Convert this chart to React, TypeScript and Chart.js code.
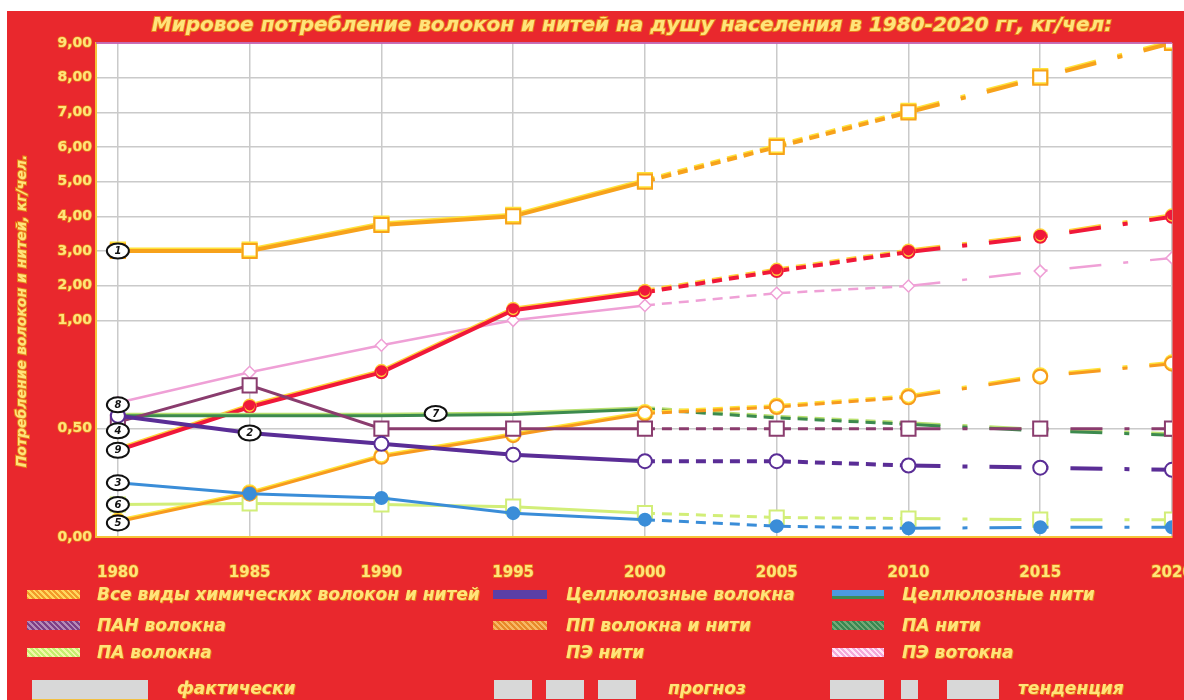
import React, { useEffect, useRef } from "react";
import { Chart, registerables } from "chart.js";

Chart.register(...registerables);

// ---------- data ----------
const years = [1980, 1985, 1990, 1995, 2000, 2005, 2010, 2015, 2020];
const yTickValues = [0, 0.5, 1, 2, 3, 4, 5, 6, 7, 8, 9];
const yTickLabels = ["0,00", "0,50", "1,00", "2,00", "3,00", "4,00", "5,00", "6,00", "7,00", "8,00", "9,00"];

const allFibers = [3.0, 3.0, 3.75, 4.0, 5.0, 6.0, 7.0, 8.0, 9.0];
const celluloseFibers = [0.56, 0.48, 0.43, 0.38, 0.35, 0.35, 0.33, 0.32, 0.31];
const celluloseYarns = [0.25, 0.2, 0.18, 0.11, 0.08, 0.05, 0.04, 0.045, 0.045];
const panFibers = [0.53, 0.7, 0.5, 0.5, 0.5, 0.5, 0.5, 0.5, 0.5];
const ppFibers = [0.07, 0.2, 0.37, 0.47, 0.57, 0.6, 0.645, 0.74, 0.8];
const paFibers = [0.15, 0.155, 0.15, 0.14, 0.11, 0.09, 0.085, 0.08, 0.08];
const paYarns = [0.56, 0.56, 0.56, 0.565, 0.59, 0.55, 0.52, 0.49, 0.47];
const peFibers = [0.62, 0.76, 0.885, 1.0, 1.43, 1.78, 1.99, 2.42, 2.8];
const peYarns = [0.4, 0.6, 0.76, 1.29, 1.81, 2.42, 2.97, 3.41, 3.99];

const seriesNames = [
  "Все виды химических волокон и нитей",
  "Целлюлозные волокна",
  "Целлюлозные нити",
  "ПАН волокна",
  "ПП волокна и нити",
  "ПА нити",
  "ПА волокна",
  "ПЭ нити",
  "ПЭ вотокна",
];

// circled number annotations: [number, year, value]
const numberLabels: [string, number, number][] = [
  ["1", 1980, 3.0],
  ["2", 1985, 0.48],
  ["3", 1980, 0.25],
  ["4", 1980, 0.49],
  ["5", 1980, 0.065],
  ["6", 1980, 0.15],
  ["7", 1992.06, 0.57],
  ["8", 1980, 0.61],
  ["9", 1980, 0.4],
];

const titleText = "Мировое потребление волокон и нитей на душу населения в 1980-2020 гг, кг/чел:";
const yTitleText = "Потребление волокон и нитей, кг/чел.";
const lineKinds = ["фактически", "прогноз", "тенденция"];

// piecewise axis: 0..1 expanded, above 1 compressed
const toAxis = (v: number) => (v <= 1 ? v * 2 : 2 + (v - 1) * 0.32);

const RED = "#E9282D";
const TXT = "#FFE47A";
const TXT_EDGE = "#E8801A";
const FONT = "'DejaVu Sans', sans-serif";

const dashFor = (ctx: any) =>
  ctx.p0DataIndex >= 6 ? [32, 22, 5, 22] : ctx.p0DataIndex >= 4 ? [10, 7] : undefined;

function mk(values: number[], label: string, color: string, opts: any = {}) {
  return {
    label,
    data: years.map((yr, i) => ({ x: yr, y: toAxis(values[i]) })),
    borderColor: color,
    backgroundColor: color,
    borderWidth: 3,
    pointStyle: "circle",
    pointRadius: 7,
    pointBorderWidth: 2,
    pointBorderColor: color,
    pointBackgroundColor: "#ffffff",
    segment: { borderDash: dashFor },
    tension: 0,
    ...opts,
  };
}

const bgPlugin = {
  id: "bgPlugin",
  beforeDraw(chart: any) {
    const { ctx, chartArea: a, width, height } = chart;
    ctx.save();
    ctx.fillStyle = RED;
    ctx.fillRect(0, 0, width, height);
    ctx.fillStyle = "#ffffff";
    ctx.fillRect(a.left, a.top, a.right - a.left, a.bottom - a.top);
    ctx.restore();
  },
  beforeDatasetDraw(chart: any, args: any) {
    const ds = chart.data.datasets[args.index];
    const ctx = chart.ctx;
    ctx.save();
    if (ds.edgeColor) {
      ctx.shadowColor = ds.edgeColor;
      ctx.shadowOffsetX = 0;
      ctx.shadowOffsetY = -1.5;
      ctx.shadowBlur = 0;
    }
  },
  afterDatasetDraw(chart: any) {
    chart.ctx.restore();
  },
  afterDraw(chart: any) {
    const { ctx, chartArea: a } = chart;
    ctx.save();
    // top border
    ctx.strokeStyle = "#C24AA8";
    ctx.lineWidth = 1.5;
    ctx.beginPath();
    ctx.moveTo(a.left, a.top);
    ctx.lineTo(a.right, a.top);
    ctx.stroke();
    // title
    ctx.font = `italic bold 20px ${FONT}`;
    ctx.textAlign = "center";
    ctx.textBaseline = "middle";
    ctx.lineWidth = 2;
    ctx.strokeStyle = TXT_EDGE;
    ctx.strokeText(titleText, 625, 15);
    ctx.fillStyle = TXT;
    ctx.fillText(titleText, 625, 15);
    // y title
    ctx.translate(15, 300);
    ctx.rotate(-Math.PI / 2);
    ctx.font = `italic bold 14px ${FONT}`;
    ctx.strokeText(yTitleText, 0, 0);
    ctx.fillText(yTitleText, 0, 0);
    ctx.restore();
  },
};

const numberPlugin = {
  id: "numberPlugin",
  afterDatasetsDraw(chart: any) {
    const { ctx, scales } = chart;
    ctx.save();
    numberLabels.forEach(([n, yr, v]) => {
      const x = scales.x.getPixelForValue(yr);
      const y = scales.y.getPixelForValue(toAxis(v));
      ctx.beginPath();
      ctx.ellipse(x, y, 11, 7.5, 0, 0, Math.PI * 2);
      ctx.fillStyle = "#ffffff";
      ctx.fill();
      ctx.lineWidth = 2;
      ctx.strokeStyle = "#111111";
      ctx.stroke();
      ctx.fillStyle = "#111111";
      ctx.font = `italic bold 10px ${FONT}`;
      ctx.textAlign = "center";
      ctx.textBaseline = "middle";
      ctx.fillText(n, x, y + 0.5);
    });
    ctx.restore();
  },
};

const swatchStyle = (bg: string): React.CSSProperties => ({
  position: "absolute",
  height: 9,
  background: bg,
});

const hatch = (a: string, b: string) =>
  `repeating-linear-gradient(45deg, ${a} 0 2px, ${b} 2px 4px), ${a}`;

const legendItems = [
  { name: seriesNames[0], sw: hatch("#F39A2A", "#FFD75E"), sx: 20, sw_w: 53, tx: 90, row: 0 },
  { name: seriesNames[1], sw: "#5B3FA6", sx: 486, sw_w: 54, tx: 559, row: 0 },
  { name: seriesNames[2], sw: "linear-gradient(#4C9BE0 0 70%, #3E8B55 70%)", sx: 825, sw_w: 52, tx: 895, row: 0 },
  { name: seriesNames[3], sw: hatch("#7E3F86", "#B58AB6"), sx: 20, sw_w: 53, tx: 90, row: 1 },
  { name: seriesNames[4], sw: hatch("#E8892A", "#F7B865"), sx: 486, sw_w: 54, tx: 559, row: 1 },
  { name: seriesNames[5], sw: hatch("#3B8752", "#74A876"), sx: 825, sw_w: 52, tx: 895, row: 1 },
  { name: seriesNames[6], sw: hatch("#C5EE6E", "#F2F7A8"), sx: 20, sw_w: 53, tx: 90, row: 2 },
  { name: seriesNames[7], sw: RED, sx: 486, sw_w: 54, tx: 559, row: 2 },
  { name: seriesNames[8], sw: hatch("#F4A9DA", "#FFE6F6"), sx: 825, sw_w: 52, tx: 895, row: 2 },
];
const rowY = [583, 614, 641];

const textStyle: React.CSSProperties = {
  position: "absolute",
  color: TXT,
  font: `italic bold 17px ${FONT}`,
  lineHeight: "20px",
  whiteSpace: "nowrap",
  textShadow: `0 0 1px ${TXT_EDGE}, 1px 1px 0 ${TXT_EDGE}`,
};

export default function App() {
  const ref = useRef<HTMLCanvasElement>(null);
  useEffect(() => {
    document.body.style.margin = "0";
    const datasets: any[] = [
      mk(allFibers, seriesNames[0], "#F7A21B", { pointStyle: "rect", pointRadius: 10, borderWidth: 4, edgeColor: "#FFE23A" }),
      mk(celluloseFibers, seriesNames[1], "#5A2D96", { borderWidth: 4 }),
      mk(celluloseYarns, seriesNames[2], "#3A8DD8", { pointBackgroundColor: "#3A8DD8", pointRadius: 6 }),
      mk(panFibers, seriesNames[3], "#8A3C6E", { pointStyle: "rect", pointRadius: 10 }),
      mk(ppFibers, seriesNames[4], "#F79A1E", { edgeColor: "#FFE23A" }),
      mk(paYarns, seriesNames[5], "#3C8A4E", { pointRadius: 0, edgeColor: "#B8E070" }),
      mk(paFibers, seriesNames[6], "#D2EE78", { pointStyle: "rect", pointRadius: 10 }),
      mk(peYarns, seriesNames[7], "#F0183A", { pointBackgroundColor: "#F0183A", pointRadius: 6, borderWidth: 4, edgeColor: "#FFD23A" }),
      mk(peFibers, seriesNames[8], "#EFA0D6", { pointStyle: "rectRot", pointRadius: 6, borderWidth: 2.5, pointBorderWidth: 1.5 }),
    ];
    const chart = new Chart(ref.current as HTMLCanvasElement, {
      type: "line",
      data: { datasets },
      options: {
        animation: false,
        responsive: false,
        devicePixelRatio: 1,
        layout: { padding: { top: 32, right: 4, bottom: 113, left: 0 } },
        plugins: { legend: { display: false }, title: { display: false }, tooltip: { enabled: false } },
        scales: {
          x: {
            type: "linear",
            min: 1979.17,
            max: 2020,
            afterBuildTicks: (s: any) => {
              s.ticks = years.map((v) => ({ value: v }));
            },
            afterFit: (s: any) => {
              s.height = 50;
              s.paddingLeft = 0;
              s.paddingRight = 0;
            },
            grid: { color: "#CACACA", lineWidth: 1.5, drawTicks: false },
            border: { color: "#F5C33A", width: 2 },
            ticks: {
              padding: 27,
              color: TXT,
              textStrokeColor: TXT_EDGE,
              textStrokeWidth: 1.5,
              font: { family: FONT, weight: "bold", size: 15 },
              callback: (v: any) => String(v),
              maxRotation: 0,
              autoSkip: false,
            },
          },
          y: {
            type: "linear",
            min: 0,
            max: toAxis(9),
            afterBuildTicks: (s: any) => {
              s.ticks = yTickValues.map((v) => ({ value: toAxis(v) }));
            },
            afterFit: (s: any) => {
              s.width = 89;
              s.paddingTop = 0;
              s.paddingBottom = 0;
            },
            grid: { color: "#CACACA", lineWidth: 1.5, drawTicks: false },
            border: { color: "#F5C33A", width: 2 },
            ticks: {
              padding: 4,
              color: TXT,
              textStrokeColor: TXT_EDGE,
              textStrokeWidth: 1.5,
              font: { family: FONT, weight: "bold", size: 14 },
              callback: (_v: any, i: number) => yTickLabels[i],
              autoSkip: false,
            },
          },
        },
      } as any,
      plugins: [bgPlugin, numberPlugin],
    });
    return () => chart.destroy();
  }, []);

  return (
    <div style={{ position: "fixed", left: 7, top: 11, width: 1177, height: 689, background: RED, overflow: "hidden" }}>
      <canvas ref={ref} width={1177} height={689} style={{ display: "block" }} />
      {legendItems.map((it, i) => (
        <React.Fragment key={i}>
          <div style={{ ...swatchStyle(it.sw), left: it.sx, width: it.sw_w, top: rowY[it.row] - 4 }} />
          <div style={{ ...textStyle, left: it.tx, top: rowY[it.row] - 10 }}>{it.name}</div>
        </React.Fragment>
      ))}
      {/* line kind legend */}
      <div style={{ position: "absolute", left: 25, top: 669, width: 116, height: 19, background: "#D8D8D8", borderBottom: "2px solid #F3C040" }} />
      <div style={{ ...textStyle, left: 170, top: 667 }}>{lineKinds[0]}</div>
      <div
        style={{
          position: "absolute", left: 487, top: 669, width: 153, height: 19,
          background: `repeating-linear-gradient(90deg, #D8D8D8 0 38px, ${RED} 38px 52px)`,
        }}
      />
      <div style={{ ...textStyle, left: 661, top: 667 }}>{lineKinds[1]}</div>
      <div
        style={{
          position: "absolute", left: 823, top: 669, width: 169, height: 19,
          background: `linear-gradient(90deg, #D8D8D8 0 54px, ${RED} 54px 71px, #D8D8D8 71px 88px, ${RED} 88px 117px, #D8D8D8 117px)`,
        }}
      />
      <div style={{ ...textStyle, left: 1011, top: 667 }}>{lineKinds[2]}</div>
    </div>
  );
}
